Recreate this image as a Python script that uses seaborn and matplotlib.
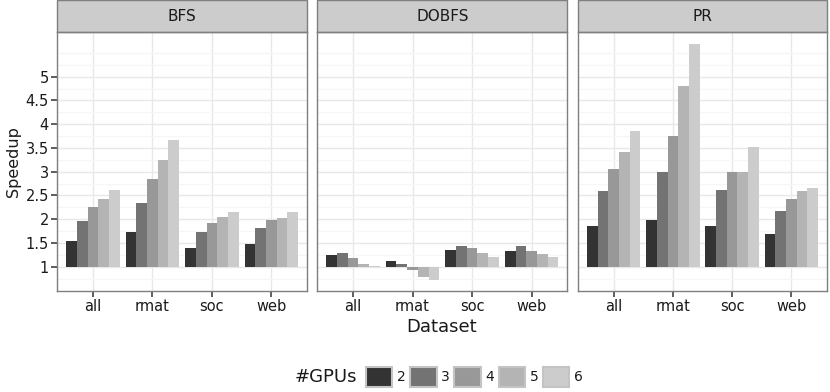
import matplotlib
matplotlib.use("Agg")
import matplotlib.pyplot as plt
from matplotlib.patches import Rectangle, Patch
import pandas as pd
import seaborn as sns

algorithms = ["BFS", "DOBFS", "PR"]
datasets = ["all", "rmat", "soc", "web"]
gpu_counts = ["2", "3", "4", "5", "6"]

# speedup per dataset (rows: all, rmat, soc, web) for 2..6 GPUs (cols)
bfs_speedup = [
    [1.54, 1.96, 2.26, 2.42, 2.62],
    [1.74, 2.35, 2.85, 3.25, 3.66],
    [1.39, 1.72, 1.93, 2.05, 2.15],
    [1.48, 1.81, 1.99, 2.02, 2.15],
]
dobfs_speedup = [
    [1.25, 1.28, 1.18, 1.06, 1.01],
    [1.13, 1.06, 0.94, 0.78, 0.73],
    [1.36, 1.44, 1.39, 1.29, 1.20],
    [1.32, 1.44, 1.34, 1.27, 1.21],
]
pr_speedup = [
    [1.85, 2.60, 3.05, 3.42, 3.86],
    [1.99, 3.00, 3.76, 4.80, 5.69],
    [1.86, 2.62, 2.99, 2.99, 3.52],
    [1.68, 2.18, 2.42, 2.60, 2.66],
]
y_breaks = [1, 1.5, 2, 2.5, 3, 3.5, 4, 4.5, 5]
y_labels = ["1", "1.5", "2", "2.5", "3", "3.5", "4", "4.5", "5"]
grey_fills = ["#333333", "#737373", "#989898", "#B4B4B4", "#CCCCCC"]

rows = []
for algo, table in zip(algorithms, [bfs_speedup, dobfs_speedup, pr_speedup]):
    for ds, vals in zip(datasets, table):
        for g, v in zip(gpu_counts, vals):
            rows.append({"Algorithm": algo, "Dataset": ds, "GPUs": g, "Speedup": v})
df = pd.DataFrame(rows)
df["Gain"] = df["Speedup"] - 1.0

sns.set_theme(style="white")
plt.rcParams["font.family"] = ["DejaVu Sans"]

W, H = 830, 392
fig = plt.figure(figsize=(W / 100, H / 100), dpi=100)

panel_x = [(57.3, 307.0), (317.3, 567.3), (578.3, 826.7)]
top_px, bot_px = 32.3, 291.0
strip_h = 32.3
text_col = "#1a1a1a"
border_col = "#7f7f7f"

axes = []
for i, (algo, (x0, x1)) in enumerate(zip(algorithms, panel_x)):
    ax = fig.add_axes([x0 / W, 1 - bot_px / H, (x1 - x0) / W, (bot_px - top_px) / H])
    axes.append(ax)
    sub = df[df["Algorithm"] == algo]
    sns.barplot(data=sub, x="Dataset", y="Gain", hue="GPUs", order=datasets,
                hue_order=gpu_counts, palette=grey_fills, width=0.9,
                errorbar=None, saturation=1, linewidth=0, bottom=1,
                legend=False, ax=ax)
    ax.set_xlim(-0.6, 3.6)
    ax.set_ylim(0.488, 5.935)
    ax.set_yticks(y_breaks)
    ax.set_yticks([0.75, 1.25, 1.75, 2.25, 2.75, 3.25, 3.75, 4.25, 4.75, 5.25, 5.5], minor=True)
    ax.set_axisbelow(True)
    ax.grid(True, which="major", axis="both", color="#e8e8e8", linewidth=1.0)
    ax.grid(True, which="minor", axis="y", color="#f6f6f6", linewidth=1.0)
    ax.tick_params(axis="x", which="major", length=4, width=1.1, color="#333333",
                   labelsize=10.5, labelcolor=text_col, pad=2, bottom=True)
    ax.tick_params(axis="y", which="minor", length=0)
    if i == 0:
        ax.set_yticklabels(y_labels)
        ax.tick_params(axis="y", which="major", length=4, width=1.1, color="#333333",
                       labelsize=10.5, labelcolor=text_col, pad=2, left=True)
        ax.set_ylabel("Speedup", fontsize=11.5, color=text_col)
        ax.yaxis.set_label_coords((21 - x0) / (x1 - x0), 0.5)
    else:
        ax.tick_params(axis="y", which="major", length=0, labelleft=False)
        ax.set_ylabel("")
    ax.set_xlabel("")
    for sp in ax.spines.values():
        sp.set_color(border_col)
        sp.set_linewidth(1.0)
    hfrac = strip_h / (bot_px - top_px)
    ax.add_patch(Rectangle((0, 1), 1, hfrac, transform=ax.transAxes,
                           facecolor="#cccccc", edgecolor=border_col,
                           linewidth=1.0, clip_on=False))
    ax.text(0.5, 1 + hfrac / 2, algo, transform=ax.transAxes, ha="center",
            va="center", fontsize=11, color=text_col)

fig.text(442 / W, 1 - 327 / H, "Dataset", ha="center", va="center",
         fontsize=13, color=text_col)

fig.text(295 / W, 1 - 377 / H, "#GPUs", ha="left", va="center",
         fontsize=13, color=text_col)
handles = [Patch(facecolor=c, edgecolor="#c4c4c4", linewidth=1.5) for c in grey_fills]
fig.legend(handles, gpu_counts, loc="center left", bbox_to_anchor=(366 / W, 1 - 377 / H),
           ncol=5, frameon=False, fontsize=10, handlelength=1.9, handleheight=1.9,
           handletextpad=0.35, columnspacing=0.3, borderpad=0, borderaxespad=0,
           labelcolor=text_col)

fig.savefig("out.png", dpi=100)
